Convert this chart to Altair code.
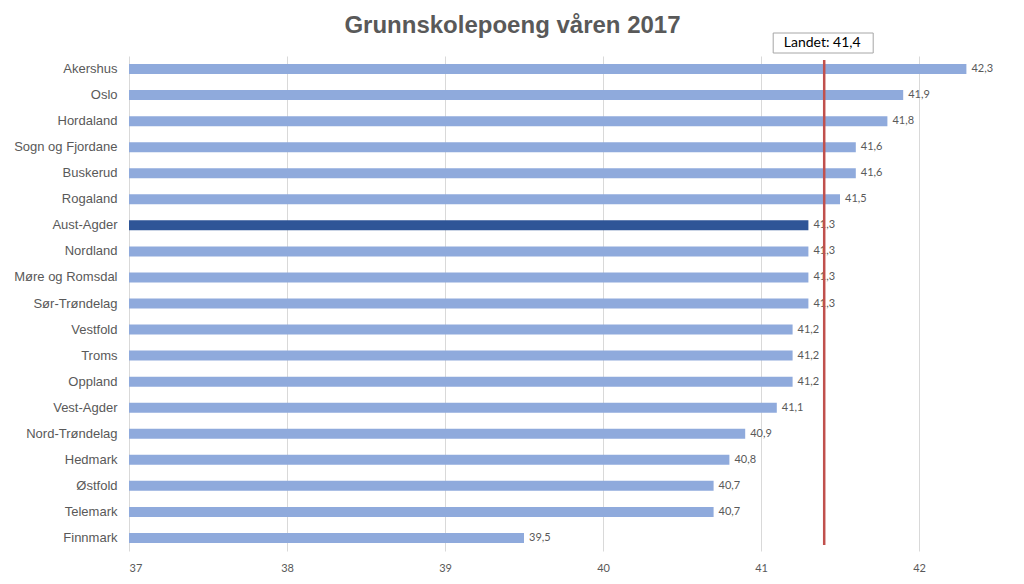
import altair as alt
import pandas as pd

counties = ["Akershus", "Oslo", "Hordaland", "Sogn og Fjordane", "Buskerud", "Rogaland",
            "Aust-Agder", "Nordland", "Møre og Romsdal", "Sør-Trøndelag", "Vestfold", "Troms",
            "Oppland", "Vest-Agder", "Nord-Trøndelag", "Hedmark", "Østfold", "Telemark", "Finnmark"]
points = [42.3, 41.9, 41.8, 41.6, 41.6, 41.5, 41.3, 41.3, 41.3, 41.3, 41.2, 41.2,
          41.2, 41.1, 40.9, 40.8, 40.7, 40.7, 39.5]
highlight = "Aust-Agder"
national = 41.4
x_ticks = [37, 38, 39, 40, 41, 42]

df = pd.DataFrame({"fylke": counties, "poeng": points})
df["label"] = [f"{v:.1f}".replace(".", ",") for v in points]
df["hl"] = ["ja" if c == highlight else "nei" for c in counties]

W, H = 869, 495
xscale = alt.Scale(domain=[37, 42.5], nice=False, zero=False)

base = alt.Chart(df)

bars = base.mark_bar(size=10).encode(
    x=alt.X("poeng:Q", scale=xscale,
            axis=alt.Axis(values=x_ticks, format="d", title=None, grid=True, gridColor="#d9d9d9",
                          domain=False, ticks=False, labelFont="Lato", labelFontSize=11,
                          labelColor="#595959", labelPadding=11)),
    x2=alt.datum(37),
    y=alt.Y("fylke:N", sort=counties,
            axis=alt.Axis(title=None, domain=False, ticks=False, labelFont="Liberation Sans",
                          labelFontSize=13, labelColor="#595959", labelPadding=12)),
    color=alt.Color("hl:N", scale=alt.Scale(domain=["ja", "nei"], range=["#2f5597", "#8faadc"]),
                    legend=None),
)

labels = base.mark_text(align="left", baseline="middle", dx=5, font="Lato", fontSize=11,
                        color="#595959").encode(
    x=alt.X("poeng:Q", scale=xscale),
    y=alt.Y("fylke:N", sort=counties),
    text="label:N",
)

nat_df = pd.DataFrame({"v": [national], "t": ["Landet: " + f"{national:.1f}".replace(".", ",")]})
nat = alt.Chart(nat_df)
rule = nat.mark_rule(color="#c0504d", strokeWidth=2.5).encode(
    x=alt.X("v:Q", scale=xscale), y=alt.value(4), y2=alt.value(H - 6))
box = nat.mark_rect(fill="white", stroke="#a6a6a6", strokeWidth=1, xOffset=-51, x2Offset=49).encode(
    x=alt.X("v:Q", scale=xscale), x2=alt.X2("v"), y=alt.value(-23), y2=alt.value(-3))
boxtext = nat.mark_text(font="Lato", fontSize=14, color="#000000", baseline="middle", dx=-2).encode(
    x=alt.X("v:Q", scale=xscale), y=alt.value(-13), text="t:N")

chart = alt.layer(bars, labels, rule, box, boxtext).properties(
    width=W, height=H,
    background="white",
    title=alt.TitleParams("Grunnskolepoeng våren 2017", font="Liberation Sans", fontSize=24,
                          fontWeight="bold", color="#595959", anchor="middle", frame="group",
                          dx=-51, dy=9, offset=4),
    autosize=alt.AutoSizeParams(type="none"),
    padding={"left": 121, "top": 48, "right": 18, "bottom": 24},
).configure_view(stroke="transparent", strokeWidth=0)

chart.save("out.html", embed_options={"renderer": "svg", "actions": False})
